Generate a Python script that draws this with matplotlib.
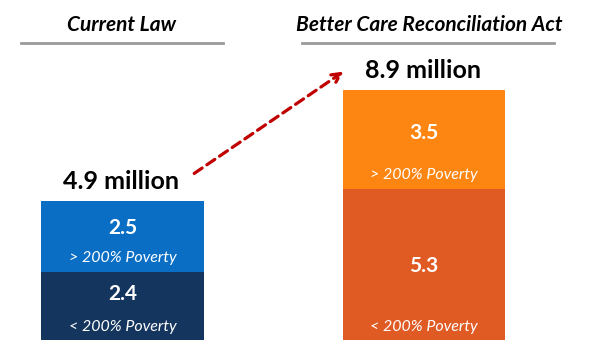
import matplotlib.pyplot as plt

# values in millions
scenarios = ["Current Law", "Better Care Reconciliation Act"]
below_200 = [2.4, 5.3]
above_200 = [2.5, 3.5]
totals = ["4.9 million", "8.9 million"]
seg_labels = ["< 200% Poverty", "> 200% Poverty"]

plt.rcParams['font.family'] = ['Lato', 'DejaVu Sans']

fig = plt.figure(figsize=(6, 3.6), dpi=100)
ax = fig.add_axes([0, 0, 1, 1])
ax.set_xlim(-0.406, 1.584)
ax.set_ylim(-0.703, 11.95)
ax.axis('off')

def py(p):  # pixel row -> value
    return (340 - p) / 28.45

def px(p):  # pixel col -> x
    return (p - 122.5) / 301.5

x = [0, 1]
w = 0.54
low_cols = ["#14365e", "#e05a24"]
high_cols = ["#0a6fc4", "#fd8613"]
ax.bar(x, below_200, width=w, color=low_cols)
ax.bar(x, above_200, width=w, bottom=below_200, color=high_cols)

# label rows in pixels: [hi value, hi label, lo value, lo label]
rows = [[228, 258, 294, 327], [133, 175, 266, 327]]
for i in range(2):
    r = rows[i]
    ax.text(x[i], py(r[0]), f"{above_200[i]:.1f}", color='white', fontsize=15,
            fontweight='bold', ha='center', va='center')
    ax.text(x[i], py(r[1]), seg_labels[1], color='white', fontsize=11.5,
            style='italic', ha='center', va='center')
    ax.text(x[i], py(r[2]), f"{below_200[i]:.1f}", color='white', fontsize=15,
            fontweight='bold', ha='center', va='center')
    ax.text(x[i], py(r[3]), seg_labels[0], color='white', fontsize=11.5,
            style='italic', ha='center', va='center')

ax.text(px(121), py(182), totals[0], fontsize=18, fontweight='bold',
        ha='center', va='center')
ax.text(px(423), py(71), totals[1], fontsize=18, fontweight='bold',
        ha='center', va='center')

# headers
ax.text(px(122), py(25), scenarios[0], fontsize=15, fontweight='bold', style='italic',
        ha='center', va='center')
ax.text(px(429), py(25), scenarios[1], fontsize=15, fontweight='bold', style='italic',
        ha='center', va='center')
ax.plot([px(21), px(223)], [py(43), py(43)], color='#9a9a9a', lw=2)
ax.plot([px(302), px(554)], [py(43), py(43)], color='#9a9a9a', lw=2)

# arrow
ax.annotate("", xy=(px(346), py(70)), xytext=(px(192), py(175)),
            arrowprops=dict(arrowstyle='->', color='#c00000', lw=2.3,
                            linestyle=(0, (3, 1.8)), mutation_scale=16))

fig.savefig("out.png", dpi=100)
